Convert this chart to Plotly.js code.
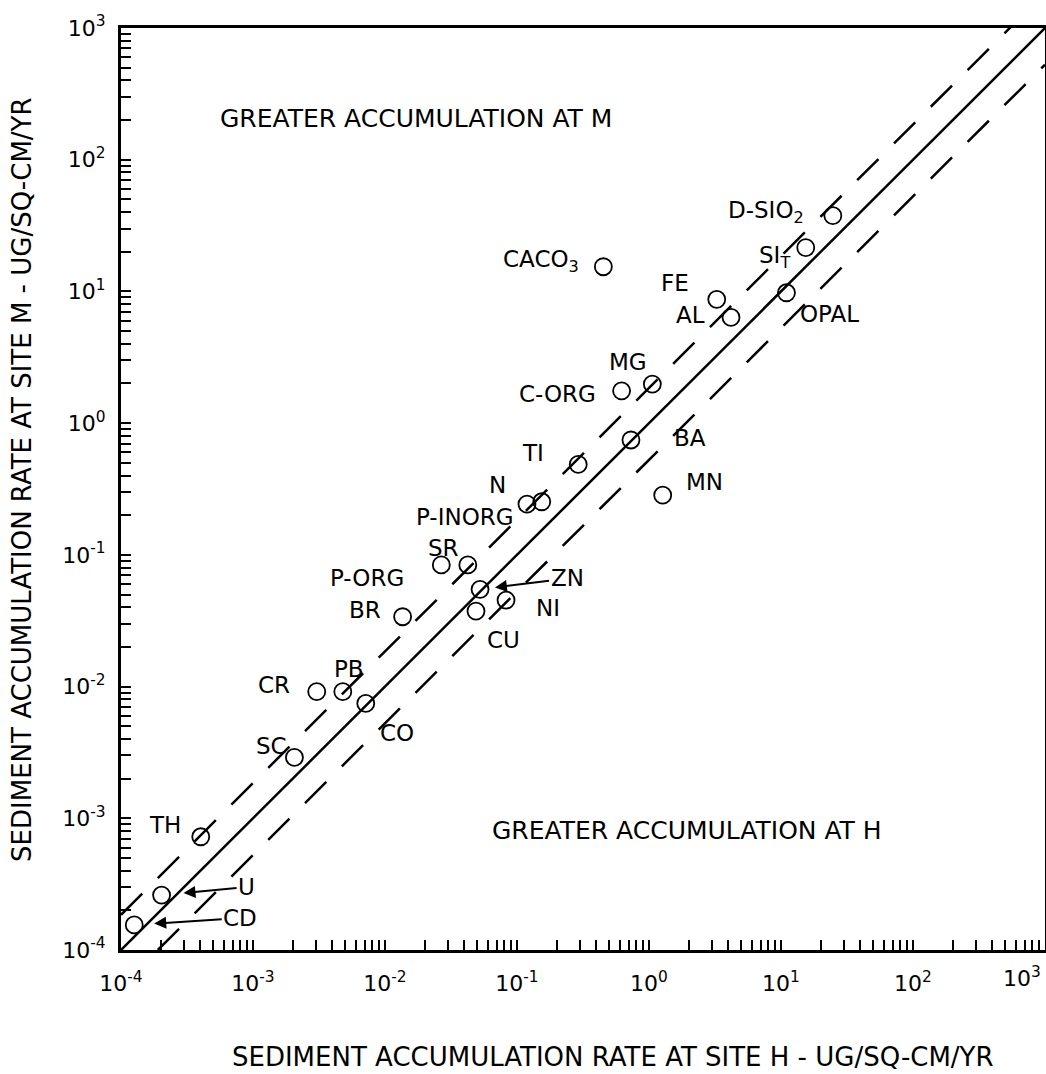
<!DOCTYPE html>
<html>
<head>
<meta charset="utf-8">
<script src="https://cdn.plot.ly/plotly-3.0.1.min.js"></script>
<style>
  html, body { margin: 0; padding: 0; background: #ffffff; }
  #chart { width: 1046px; height: 1074px; }
</style>
</head>
<body>
<div id="chart"></div>
<script>
// ---- Data ----
const elements = ['CD', 'U', 'TH', 'SC', 'CR', 'PB', 'CO', 'BR', 'P-ORG', 'SR', 'ZN', 'CU', 'NI',
  'P-INORG', 'N', 'TI', 'C-ORG', 'BA', 'MG', 'MN', 'CACO<sub>3</sub>', 'FE', 'AL', 'OPAL',
  'SI<sub>T</sub>', 'D-SIO<sub>2</sub>'];
// accumulation rate at site H (x), ug/sq-cm/yr
const rateH = [0.000126, 0.000203, 0.000402, 0.00206, 0.00304, 0.00479, 0.00715, 0.0136, 0.0267,
  0.0424, 0.0525, 0.0489, 0.0826, 0.119, 0.154, 0.291, 0.62, 0.73, 1.06, 1.27, 0.451, 3.26, 4.18,
  11.0, 15.4, 24.7];
// accumulation rate at site M (y), ug/sq-cm/yr
const rateM = [0.000155, 0.000261, 0.000724, 0.00290, 0.00914, 0.00914, 0.00745, 0.0339, 0.0838,
  0.0838, 0.0547, 0.0374, 0.0454, 0.243, 0.253, 0.486, 1.76, 0.745, 1.98, 0.284, 15.4, 8.71, 6.35,
  9.77, 21.5, 37.6];
const axisMin = 1e-4, axisMax = 1e3;
const decadeLabels = ['10<sup>-4</sup>', '10<sup>-3</sup>', '10<sup>-2</sup>', '10<sup>-1</sup>',
  '10<sup>0</sup>', '10<sup>1</sup>', '10<sup>2</sup>', '10<sup>3</sup>'];
const upperFactor = 1.85;     // dashed band above 1:1 line
const lowerFactor = 1 / 1.9;  // dashed band below 1:1 line

// ---- label placement (pixel offsets from each point; style only) ----
const labelShift = {
  'TH': [-36, 12], 'SC': [-23, 11], 'CR': [-43, 7], 'PB': [6, 23], 'CO': [31, -30],
  'BR': [-38, 7], 'P-ORG': [-74, -13], 'SR': [-24, 17], 'CU': [28, -29], 'NI': [42, -8],
  'P-INORG': [-62, -13], 'N': [-44, 17], 'TI': [-45, 11], 'C-ORG': [-64, -3], 'BA': [59, 2],
  'MG': [-24, 22], 'MN': [42, 13], 'CACO<sub>3</sub>': [-62, 6], 'FE': [-42, 16], 'AL': [-41, 2],
  'OPAL': [43, -21], 'SI<sub>T</sub>': [-31, -9], 'D-SIO<sub>2</sub>': [-67, 4]
};
const arrowLabels = { 'CD': [106, -7, 20], 'U': [85, -8, 22], 'ZN': [87, -11, 15] };

const FONT = 'DejaVu Sans, Verdana, sans-serif';

// ---- Traces ----
const tickVals = [];
for (let e = -4; e <= 3; e++) tickVals.push(Math.pow(10, e));
const minorVals = [];
for (let e = -4; e < 3; e++) for (let k = 2; k <= 9; k++) minorVals.push(k * Math.pow(10, e));

const oneToOne = {
  x: [axisMin, axisMax], y: [axisMin, axisMax], mode: 'lines', type: 'scatter',
  line: { color: '#000', width: 2.5 }, hoverinfo: 'skip', showlegend: false
};
const upperBand = {
  x: [axisMin, axisMax], y: [axisMin * upperFactor, axisMax * upperFactor], mode: 'lines', type: 'scatter',
  line: { color: '#000', width: 2.5, dash: '30px,22px' }, hoverinfo: 'skip', showlegend: false
};
const lowerBand = {
  x: [axisMin, axisMax], y: [axisMin * lowerFactor, axisMax * lowerFactor], mode: 'lines', type: 'scatter',
  line: { color: '#000', width: 2.5, dash: '30px,22px' }, hoverinfo: 'skip', showlegend: false
};
const points = {
  x: rateH, y: rateM, text: elements, mode: 'markers', type: 'scatter', showlegend: false,
  marker: { symbol: 'circle-open', size: 17, color: '#000', line: { width: 1.8, color: '#000' } },
  cliponaxis: false
};

// ---- Annotations ----
const annotations = [];
elements.forEach((name, i) => {
  if (arrowLabels[name]) {
    const a = arrowLabels[name];
    annotations.push({
      x: Math.log10(rateH[i]), y: Math.log10(rateM[i]), xref: 'x', yref: 'y',
      text: name, showarrow: true, ax: a[0], ay: a[1], standoff: a[2],
      arrowhead: 2, arrowsize: 1.2, arrowwidth: 2, arrowcolor: '#000',
      font: { family: FONT, size: 23, color: '#000' }
    });
  } else if (labelShift[name]) {
    const s = labelShift[name];
    annotations.push({
      x: Math.log10(rateH[i]), y: Math.log10(rateM[i]), xref: 'x', yref: 'y',
      text: name, showarrow: false, xshift: s[0], yshift: s[1],
      font: { family: FONT, size: 23, color: '#000' }
    });
  }
});
annotations.push({
  xref: 'paper', yref: 'paper', x: 0.105, y: 0.902, xanchor: 'left', yanchor: 'middle',
  text: 'GREATER ACCUMULATION AT M', showarrow: false, font: { family: FONT, size: 25, color: '#000' }
});
annotations.push({
  xref: 'paper', yref: 'paper', x: 0.399, y: 0.130, xanchor: 'left', yanchor: 'middle',
  text: 'GREATER ACCUMULATION AT H', showarrow: false, font: { family: FONT, size: 25, color: '#000' }
});
annotations.push({
  xref: 'paper', yref: 'paper', x: 0.532, y: -0.116, xanchor: 'center', yanchor: 'middle',
  text: 'SEDIMENT ACCUMULATION RATE AT SITE H - UG/SQ-CM/YR', showarrow: false,
  font: { family: FONT, size: 26, color: '#000' }
});
annotations.push({
  xref: 'paper', yref: 'paper', x: -0.107, y: 0.51, xanchor: 'center', yanchor: 'middle', textangle: -90,
  text: 'SEDIMENT ACCUMULATION RATE AT SITE M - UG/SQ-CM/YR', showarrow: false,
  font: { family: FONT, size: 26, color: '#000' }
});
// last x decade label, kept inside the page edge (as in the reference)
annotations.push({
  xref: 'paper', yref: 'paper', x: 1, y: -0.012, xanchor: 'right', yanchor: 'top', xshift: -2,
  text: decadeLabels[decadeLabels.length - 1], showarrow: false,
  font: { family: FONT, size: 22, color: '#000' }
});

const xTickText = decadeLabels.slice(0, -1).concat(['']);

const axisCommon = {
  type: 'log', range: [-4, 3], showgrid: false, zeroline: false,
  showline: true, linecolor: '#000', linewidth: 3, mirror: true,
  tickmode: 'array', tickvals: tickVals, ticktext: decadeLabels,
  ticks: 'inside', ticklen: 10, tickwidth: 2, tickcolor: '#000',
  minor: { tickmode: 'array', tickvals: minorVals, ticks: 'inside', ticklen: 10, tickwidth: 2, tickcolor: '#000', showgrid: false },
  tickfont: { family: FONT, size: 22, color: '#000' },
  fixedrange: true
};

const layout = {
  width: 1046, height: 1074,
  margin: { l: 121, r: 1, t: 28, b: 124 },
  paper_bgcolor: '#fff', plot_bgcolor: '#fff',
  xaxis: Object.assign({}, axisCommon, { ticktext: xTickText, ticklabelstandoff: 12 }),
  yaxis: Object.assign({}, axisCommon, { ticklabelstandoff: 8 }),
  annotations: annotations,
  showlegend: false
};

Plotly.newPlot('chart', [upperBand, lowerBand, oneToOne, points], layout, { staticPlot: true, displayModeBar: false });
</script>
</body>
</html>
